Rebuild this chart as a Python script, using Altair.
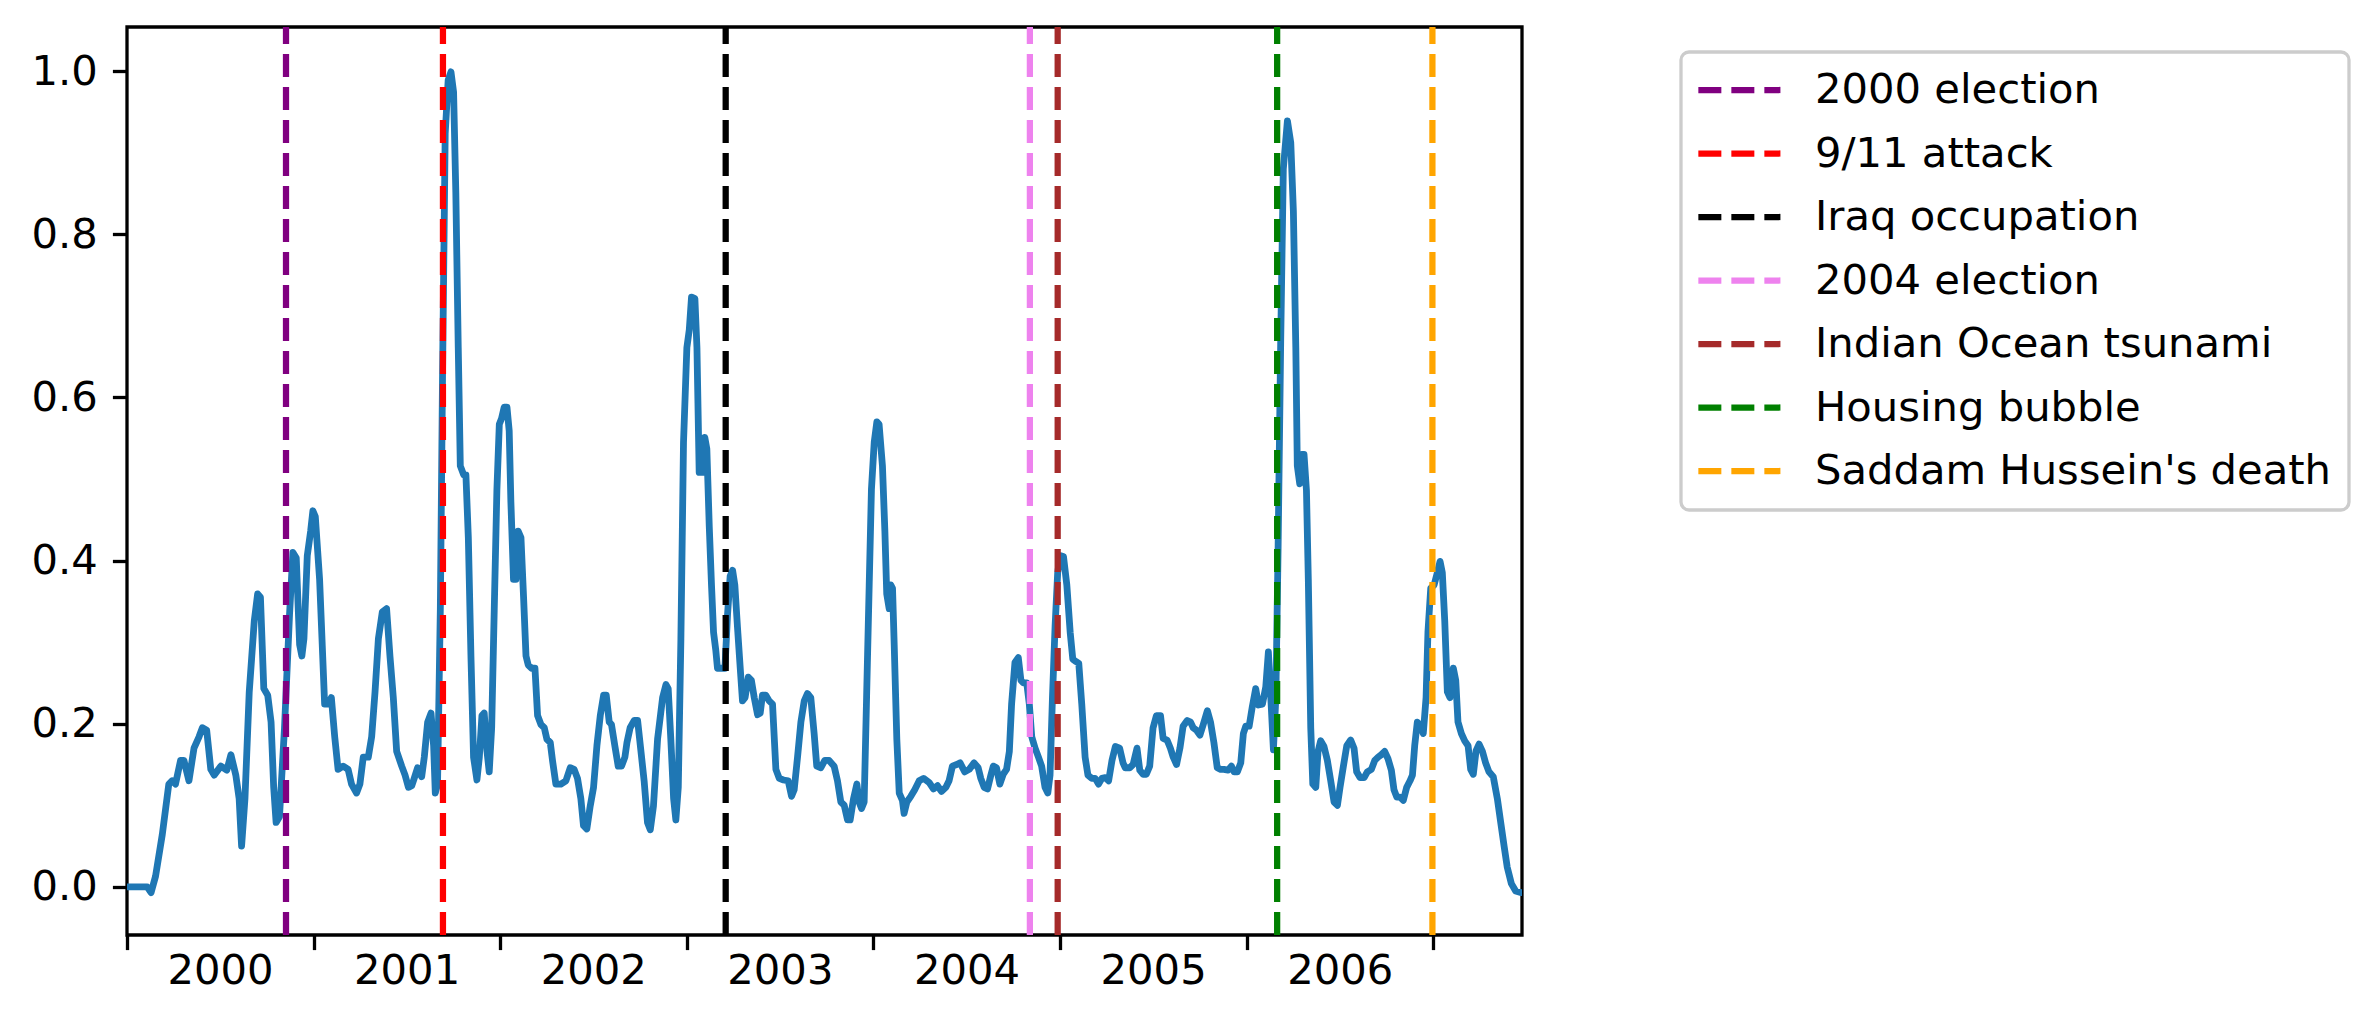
import altair as alt
import pandas as pd

# Time series (fractional year, value)
years = [
    2000.000, 2000.108, 2000.129, 2000.153, 2000.189, 2000.224, 2000.242, 2000.260, 2000.287, 2000.305,
    2000.332, 2000.359, 2000.386, 2000.404, 2000.427, 2000.449, 2000.467, 2000.503, 2000.535, 2000.557,
    2000.583, 2000.601, 2000.614, 2000.632, 2000.655, 2000.682, 2000.700, 2000.715, 2000.733, 2000.754,
    2000.772, 2000.786, 2000.799, 2000.817, 2000.844, 2000.871, 2000.889, 2000.907, 2000.925, 2000.937,
    2000.948, 2000.966, 2000.984, 2000.996, 2001.009, 2001.032, 2001.050, 2001.059, 2001.081, 2001.095,
    2001.113, 2001.131, 2001.158, 2001.185, 2001.203, 2001.230, 2001.248, 2001.266, 2001.293, 2001.311,
    2001.329, 2001.347, 2001.368, 2001.391, 2001.409, 2001.427, 2001.445, 2001.472, 2001.490, 2001.508,
    2001.526, 2001.539, 2001.557, 2001.579, 2001.593, 2001.611, 2001.629, 2001.643, 2001.652, 2001.664,
    2001.679, 2001.691, 2001.705, 2001.721, 2001.736, 2001.750, 2001.762, 2001.775, 2001.786, 2001.804,
    2001.816, 2001.829, 2001.843, 2001.857, 2001.875, 2001.888, 2001.902, 2001.914, 2001.929, 2001.941,
    2001.954, 2001.968, 2001.982, 2001.995, 2002.007, 2002.021, 2002.036, 2002.048, 2002.057, 2002.071,
    2002.084, 2002.096, 2002.111, 2002.125, 2002.138, 2002.150, 2002.168, 2002.186, 2002.200, 2002.218,
    2002.236, 2002.250, 2002.268, 2002.280, 2002.298, 2002.325, 2002.352, 2002.375, 2002.396, 2002.414,
    2002.432, 2002.446, 2002.464, 2002.482, 2002.500, 2002.518, 2002.536, 2002.554, 2002.568, 2002.584,
    2002.596, 2002.614, 2002.632, 2002.650, 2002.668, 2002.679, 2002.696, 2002.718, 2002.736, 2002.754,
    2002.771, 2002.789, 2002.804, 2002.821, 2002.843, 2002.870, 2002.888, 2002.900, 2002.914, 2002.929,
    2002.941, 2002.954, 2002.968, 2002.982, 2003.000, 2003.013, 2003.025, 2003.043, 2003.054, 2003.066,
    2003.084, 2003.096, 2003.107, 2003.120, 2003.132, 2003.143, 2003.155, 2003.164, 2003.182, 2003.204,
    2003.218, 2003.232, 2003.245, 2003.257, 2003.271, 2003.286, 2003.298, 2003.312, 2003.329, 2003.346,
    2003.361, 2003.379, 2003.393, 2003.405, 2003.423, 2003.441, 2003.459, 2003.477, 2003.495, 2003.518,
    2003.543, 2003.561, 2003.575, 2003.593, 2003.611, 2003.629, 2003.646, 2003.664, 2003.682, 2003.696,
    2003.718, 2003.739, 2003.762, 2003.789, 2003.807, 2003.825, 2003.843, 2003.861, 2003.875, 2003.893,
    2003.911, 2003.923, 2003.936, 2003.950, 2003.963, 2003.977, 2003.989, 2004.004, 2004.018, 2004.030,
    2004.048, 2004.061, 2004.071, 2004.084, 2004.093, 2004.102, 2004.111, 2004.125, 2004.138, 2004.155,
    2004.164, 2004.179, 2004.200, 2004.221, 2004.245, 2004.268, 2004.298, 2004.321, 2004.343, 2004.364,
    2004.388, 2004.405, 2004.423, 2004.446, 2004.464, 2004.489, 2004.513, 2004.539, 2004.561, 2004.575,
    2004.593, 2004.611, 2004.629, 2004.642, 2004.659, 2004.677, 2004.695, 2004.713, 2004.728, 2004.740,
    2004.758, 2004.776, 2004.790, 2004.803, 2004.821, 2004.835, 2004.848, 2004.866, 2004.884, 2004.901,
    2004.919, 2004.934, 2004.946, 2004.959, 2004.973, 2004.987, 2005.000, 2005.018, 2005.036, 2005.054,
    2005.068, 2005.086, 2005.100, 2005.116, 2005.134, 2005.149, 2005.170, 2005.188, 2005.206, 2005.224,
    2005.242, 2005.260, 2005.278, 2005.296, 2005.319, 2005.337, 2005.349, 2005.373, 2005.391, 2005.412,
    2005.427, 2005.444, 2005.462, 2005.480, 2005.498, 2005.516, 2005.538, 2005.552, 2005.573, 2005.591,
    2005.606, 2005.624, 2005.642, 2005.659, 2005.681, 2005.699, 2005.713, 2005.731, 2005.749, 2005.767,
    2005.789, 2005.806, 2005.824, 2005.842, 2005.860, 2005.878, 2005.900, 2005.918, 2005.932, 2005.950,
    2005.968, 2005.982, 2005.995, 2006.013, 2006.030, 2006.048, 2006.063, 2006.084, 2006.102, 2006.116,
    2006.129, 2006.143, 2006.156, 2006.168, 2006.182, 2006.196, 2006.218, 2006.236, 2006.250, 2006.263,
    2006.271, 2006.284, 2006.295, 2006.307, 2006.320, 2006.330, 2006.343, 2006.354, 2006.370, 2006.382,
    2006.396, 2006.414, 2006.432, 2006.450, 2006.468, 2006.486, 2006.500, 2006.518, 2006.536, 2006.557,
    2006.575, 2006.589, 2006.607, 2006.629, 2006.646, 2006.668, 2006.686, 2006.704, 2006.721, 2006.739,
    2006.757, 2006.775, 2006.789, 2006.804, 2006.821, 2006.839, 2006.857, 2006.875, 2006.888, 2006.900,
    2006.914, 2006.932, 2006.946, 2006.961, 2006.971, 2006.986, 2007.004, 2007.021, 2007.036, 2007.048,
    2007.061, 2007.075, 2007.089, 2007.107, 2007.120, 2007.132, 2007.150, 2007.168, 2007.186, 2007.200,
    2007.214, 2007.229, 2007.245, 2007.263, 2007.280, 2007.298, 2007.321, 2007.343, 2007.361, 2007.379,
    2007.396, 2007.418, 2007.441, 2007.468, 2007.475,
]
values = [
    0.000, 0.000, -0.007, 0.013, 0.064, 0.126, 0.130, 0.126, 0.155, 0.155,
    0.130, 0.170, 0.184, 0.195, 0.192, 0.144, 0.137, 0.148, 0.143, 0.162,
    0.137, 0.108, 0.050, 0.108, 0.239, 0.326, 0.359, 0.355, 0.243, 0.235,
    0.202, 0.122, 0.079, 0.086, 0.195, 0.334, 0.410, 0.403, 0.297, 0.283,
    0.304, 0.406, 0.436, 0.461, 0.454, 0.377, 0.275, 0.224, 0.224, 0.232,
    0.184, 0.144, 0.148, 0.144, 0.126, 0.115, 0.126, 0.159, 0.159, 0.184,
    0.239, 0.304, 0.337, 0.341, 0.283, 0.232, 0.166, 0.148, 0.137, 0.122,
    0.124, 0.133, 0.146, 0.135, 0.159, 0.202, 0.213, 0.173, 0.115, 0.126,
    0.341, 0.632, 0.923, 0.989, 0.999, 0.974, 0.851, 0.661, 0.516, 0.505,
    0.505, 0.428, 0.283, 0.159, 0.131, 0.159, 0.210, 0.213, 0.166, 0.141,
    0.195, 0.341, 0.486, 0.567, 0.574, 0.588, 0.588, 0.559, 0.472, 0.377,
    0.377, 0.436, 0.428, 0.355, 0.283, 0.272, 0.268, 0.268, 0.210, 0.199,
    0.195, 0.181, 0.177, 0.155, 0.126, 0.126, 0.130, 0.146, 0.144, 0.133,
    0.108, 0.075, 0.071, 0.099, 0.122, 0.173, 0.210, 0.235, 0.235, 0.202,
    0.199, 0.173, 0.148, 0.148, 0.159, 0.177, 0.195, 0.204, 0.204, 0.166,
    0.130, 0.079, 0.070, 0.099, 0.181, 0.232, 0.248, 0.243, 0.181, 0.108,
    0.082, 0.122, 0.304, 0.545, 0.661, 0.683, 0.723, 0.721, 0.661, 0.508,
    0.508, 0.551, 0.537, 0.442, 0.370, 0.312, 0.290, 0.268, 0.268, 0.268,
    0.334, 0.381, 0.388, 0.370, 0.319, 0.268, 0.228, 0.232, 0.257, 0.253,
    0.232, 0.211, 0.213, 0.235, 0.235, 0.228, 0.224, 0.144, 0.133, 0.131,
    0.130, 0.111, 0.119, 0.159, 0.202, 0.228, 0.237, 0.232, 0.188, 0.148,
    0.146, 0.155, 0.155, 0.148, 0.130, 0.104, 0.100, 0.082, 0.082, 0.108,
    0.126, 0.104, 0.096, 0.104, 0.232, 0.370, 0.487, 0.545, 0.570, 0.567,
    0.516, 0.436, 0.359, 0.341, 0.370, 0.366, 0.297, 0.181, 0.115, 0.106,
    0.090, 0.104, 0.111, 0.119, 0.130, 0.133, 0.128, 0.120, 0.124, 0.117,
    0.122, 0.130, 0.148, 0.150, 0.152, 0.141, 0.144, 0.152, 0.146, 0.133,
    0.122, 0.120, 0.137, 0.148, 0.146, 0.126, 0.138, 0.144, 0.166, 0.224,
    0.275, 0.281, 0.253, 0.250, 0.250, 0.224, 0.184, 0.170, 0.159, 0.148,
    0.122, 0.115, 0.137, 0.232, 0.319, 0.385, 0.406, 0.405, 0.370, 0.312,
    0.279, 0.276, 0.274, 0.224, 0.159, 0.137, 0.133, 0.133, 0.126, 0.133,
    0.134, 0.130, 0.155, 0.172, 0.170, 0.152, 0.146, 0.146, 0.150, 0.170,
    0.143, 0.138, 0.138, 0.148, 0.195, 0.210, 0.210, 0.182, 0.180, 0.170,
    0.159, 0.150, 0.170, 0.197, 0.204, 0.202, 0.195, 0.192, 0.186, 0.199,
    0.216, 0.202, 0.177, 0.146, 0.144, 0.144, 0.143, 0.148, 0.141, 0.141,
    0.152, 0.188, 0.197, 0.197, 0.221, 0.243, 0.223, 0.224, 0.245, 0.288,
    0.232, 0.168, 0.232, 0.414, 0.669, 0.880, 0.939, 0.912, 0.828, 0.661,
    0.516, 0.494, 0.530, 0.530, 0.486, 0.377, 0.195, 0.126, 0.122, 0.166,
    0.179, 0.172, 0.155, 0.130, 0.104, 0.100, 0.122, 0.148, 0.173, 0.180,
    0.170, 0.141, 0.134, 0.134, 0.141, 0.144, 0.155, 0.159, 0.162, 0.166,
    0.157, 0.143, 0.119, 0.110, 0.110, 0.106, 0.122, 0.130, 0.137, 0.173,
    0.202, 0.197, 0.188, 0.232, 0.312, 0.366, 0.370, 0.385, 0.399, 0.385,
    0.326, 0.239, 0.232, 0.268, 0.253, 0.202, 0.188, 0.179, 0.173, 0.144,
    0.138, 0.167, 0.175, 0.166, 0.152, 0.141, 0.135, 0.108, 0.079, 0.050,
    0.024, 0.004, -0.005, -0.007, -0.007,
]

# Events
event_names = ["2000 election", "9/11 attack", "Iraq occupation", "2004 election",
               "Indian Ocean tsunami", "Housing bubble", "Saddam Hussein's death"]
event_years = [2000.852, 2001.693, 2003.208, 2004.838, 2004.987, 2006.163, 2006.995]
event_colors = ["#800080", "#ff0000", "#000000", "#ee82ee", "#a52a2a", "#008000", "#ffa500"]

# Axis ticks
year_ticks = [2000, 2001, 2002, 2003, 2004, 2005, 2006, 2007]
y_ticks = [0.0, 0.2, 0.4, 0.6, 0.8, 1.0]

series = pd.DataFrame({"year": years, "value": values})
events = pd.DataFrame({"year": event_years, "event": event_names})

W, H = 1395, 908
FONT = "DejaVu Sans"
FS = 41.7

x_scale = alt.Scale(domain=[2000.0, 2007.475], nice=False, zero=False)
y_scale = alt.Scale(domain=[-0.059, 1.054], nice=False, zero=False)

x_axis = alt.Axis(values=year_ticks, title=None, grid=False, domain=False,
                  tickSize=14.6, tickWidth=3.3, tickColor="black",
                  labelFont=FONT, labelFontSize=FS, labelColor="black",
                  labelPadding=1, labelOffset=93, labelFlush=False, labelOverlap=False,
                  labelBound=False,
                  labelExpr="datum.value >= 2007 ? '' : format(datum.value, 'd')")
y_axis = alt.Axis(values=y_ticks, title=None, grid=False, domain=False, format=".1f",
                  tickSize=14.6, tickWidth=3.3, tickColor="black",
                  labelFont=FONT, labelFontSize=FS, labelColor="black", labelPadding=15)

line = alt.Chart(series).mark_line(
    color="#1f77b4", strokeWidth=6.8, strokeJoin="round", clip=True
).encode(
    x=alt.X("year:Q", scale=x_scale, axis=x_axis),
    y=alt.Y("value:Q", scale=y_scale, axis=y_axis),
)

rules = alt.Chart(events).mark_rule(strokeWidth=6.25, strokeDash=[23, 10]).encode(
    x=alt.X("year:Q", scale=x_scale),
    y=alt.value(H), y2=alt.value(0),
    color=alt.Color(
        "event:N",
        scale=alt.Scale(domain=event_names, range=event_colors),
        sort=event_names,
        legend=alt.Legend(
            title=None, orient="none", legendX=1554, legendY=25,
            symbolType="M-1.18,0H3.51", symbolSize=1225, symbolStrokeWidth=6.25,
            symbolDash=[23, 10], labelFont=FONT, labelFontSize=FS, labelColor="black",
            labelLimit=2000, labelOffset=75, rowPadding=20.5, padding=17,
            strokeColor="#cccccc", cornerRadius=8, fillColor="white",
        ),
    ),
)

chart = alt.layer(line, rules).properties(
    width=W, height=H,
    autosize=alt.AutoSizeParams(type="none"),
    padding={"left": 119, "top": 19, "right": 840, "bottom": 70},
).configure_view(
    stroke="black", strokeWidth=3.3
).configure_legend(
    strokeWidth=3.3
)

chart.save("out.html", embed_options={"renderer": "svg", "actions": False})
